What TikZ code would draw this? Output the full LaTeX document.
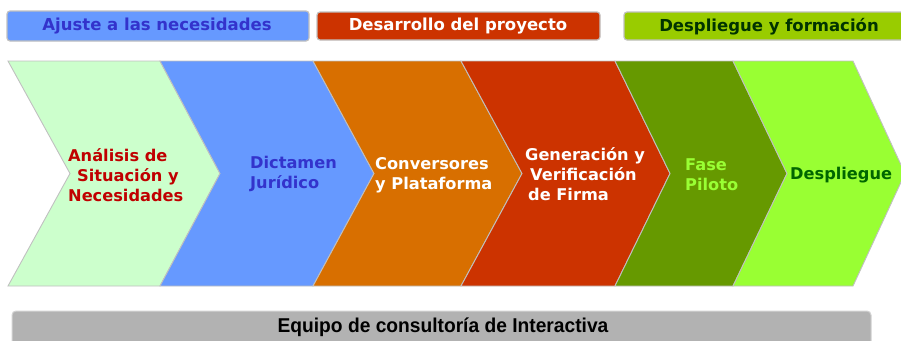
\documentclass[tikz,border=0pt]{standalone}
\usepackage{fontspec}
\setmainfont{DejaVu Sans}
\newfontfamily\arialfont{Liberation Sans}
\definecolor{topblue}{HTML}{6699FF}
\definecolor{topred}{HTML}{CC3300}
\definecolor{topgreen}{HTML}{99CC00}
\definecolor{cA}{HTML}{CCFFCC}
\definecolor{cB}{HTML}{6699FF}
\definecolor{cC}{HTML}{D86F00}
\definecolor{cD}{HTML}{CC3300}
\definecolor{cE}{HTML}{669900}
\definecolor{cF}{HTML}{99FF33}
\definecolor{txblue}{HTML}{3333CC}
\definecolor{txred}{HTML}{C00000}
\definecolor{txdkgreen}{HTML}{003300}
\definecolor{txgreen}{HTML}{006600}
\definecolor{txlgreen}{HTML}{99FF33}
\definecolor{bordergray}{HTML}{C0C0C0}
\definecolor{bargray}{HTML}{B2B2B2}
\tikzset{
  topbar/.style={draw=bordergray, line width=1.2pt, rounded corners=3pt},
  chevshape/.style={draw=bordergray, line width=0.9pt, line join=miter},
  toptext/.style={font=\fontsize{16.5}{18}\selectfont\bfseries, inner sep=0pt, anchor=center},
  chevtext/.style={font=\fontsize{16.2}{20}\selectfont\bfseries, inner sep=0pt, align=left, anchor=west},
}
\newcommand{\chevron}[5]{%
  \path[chevshape, fill=#5] (#1,61) -- (#3,61) -- (#4,173.5) -- (#3,286) -- (#1,286) -- (#2,173.5) -- cycle;}
\begin{document}
\begin{tikzpicture}[x=1pt,y=-1pt]
\useasboundingbox (0,0) rectangle (901,340);
% top bars
\path[topbar, fill=topblue] (7,11) rectangle (309,41);
\path[topbar, fill=topred] (317,12) rectangle (600,40);
\path[topbar, fill=topgreen] (624,12) rectangle (904,40);
\node[toptext, text=txblue] (ajuste) at (157,26.5) {Ajuste a las necesidades};
\node[toptext, text=white] (desarrollo) at (458,26.5) {Desarrollo del proyecto};
\node[toptext, text=txdkgreen] (despl) at (769,26.5) {Despliegue y formación};
% chevrons
\chevron{8}{70}{160}{220}{cA}
\chevron{160}{220}{313}{374}{cB}
\chevron{313}{374}{461}{522}{cC}
\chevron{461}{522}{615}{670}{cD}
\chevron{615}{670}{733}{787}{cE}
\chevron{733}{787}{853}{905}{cF}
% chevron texts
\node[chevtext, text=txred] (analisis) at (68,175) {Análisis de\\\hspace*{9pt}Situación y\\Necesidades};
\node[chevtext, text=txblue] (dictamen) at (250,174) {Dictamen\\Jurídico};
\node[chevtext, text=white] (conv) at (375,175) {Conversores\\y Plataforma};
\node[chevtext, text=white] (gen) at (525,174) {Generación y\\\hspace*{5pt}Verificación\\\hspace*{3pt}de Firma};
\node[chevtext, text=txlgreen] (fase) at (685,175) {Fase\\Piloto};
\node[chevtext, text=txgreen] (desp) at (790,175) {Despliegue};
% bottom bar
\path[draw=bordergray!70, line width=1pt, fill=bargray, rounded corners=4pt] (12,311) rectangle (871,348);
\node[font=\arialfont\fontsize{20}{22}\selectfont\bfseries, inner sep=0pt] (equipo) at (443,327) {\scalebox{0.96}[1]{Equipo de consultoría de Interactiva}};
\end{tikzpicture}
\end{document}
